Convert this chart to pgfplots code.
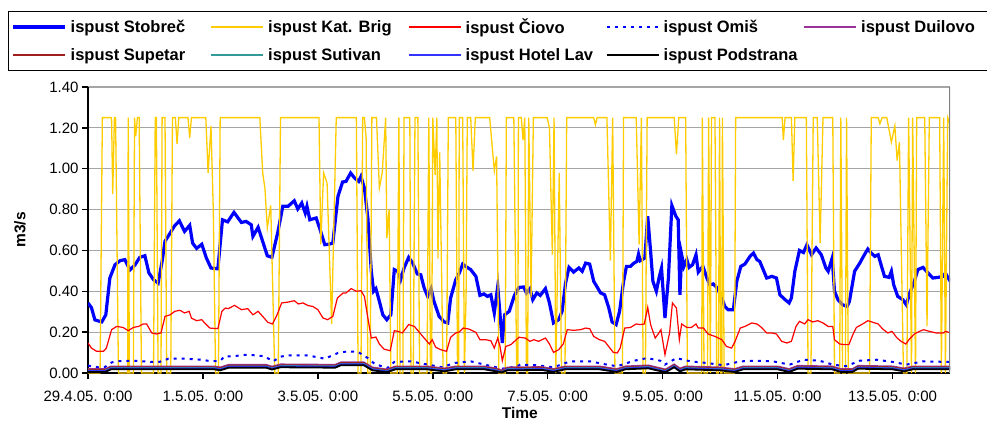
\documentclass[border=0pt]{standalone}
\usepackage{fontspec}
\setmainfont{Liberation Sans}
\usepackage{pgfplots}
\usepackage{pgfplotstable}
\pgfplotsset{compat=1.18}

\definecolor{cStob}{RGB}{0,0,255}
\definecolor{cKat}{RGB}{255,204,0}
\definecolor{cCio}{RGB}{255,0,0}
\definecolor{cOmi}{RGB}{0,0,255}
\definecolor{cDui}{RGB}{153,51,153}
\definecolor{cSup}{RGB}{160,30,30}
\definecolor{cSut}{RGB}{51,153,153}
\definecolor{cHot}{RGB}{51,51,255}
\definecolor{cPod}{RGB}{0,0,0}
\definecolor{cGrid}{RGB}{165,165,165}
\definecolor{cBorder}{RGB}{128,128,128}

\pgfplotstableread{
t v
0.00 0.343
0.06 0.32
0.12 0.26
0.24 0.25
0.31 0.285
0.38 0.465
0.47 0.53
0.56 0.55
0.64 0.555
0.73 0.505
0.82 0.53
0.90 0.566
0.99 0.574
1.06 0.49
1.14 0.457
1.22 0.44
1.29 0.547
1.34 0.645
1.43 0.685
1.50 0.718
1.59 0.745
1.68 0.693
1.77 0.723
1.82 0.636
1.89 0.61
1.98 0.63
2.06 0.563
2.14 0.514
2.26 0.51
2.34 0.75
2.43 0.74
2.54 0.786
2.67 0.737
2.75 0.742
2.84 0.726
2.87 0.669
2.96 0.713
3.04 0.644
3.12 0.574
3.20 0.566
3.30 0.685
3.39 0.816
3.48 0.816
3.59 0.843
3.65 0.803
3.72 0.832
3.78 0.783
3.81 0.816
3.86 0.75
3.97 0.759
4.03 0.71
4.12 0.628
4.20 0.631
4.26 0.636
4.35 0.865
4.43 0.935
4.49 0.938
4.57 0.979
4.64 0.954
4.71 0.938
4.75 0.962
4.81 0.905
4.87 0.759
4.93 0.498
4.97 0.40
5.01 0.413
5.07 0.351
5.13 0.285
5.20 0.261
5.27 0.285
5.33 0.506
5.39 0.498
5.44 0.457
5.50 0.514
5.58 0.566
5.65 0.538
5.73 0.485
5.79 0.481
5.85 0.416
5.91 0.375
5.97 0.413
6.02 0.351
6.11 0.277
6.20 0.25
6.26 0.245
6.31 0.367
6.40 0.457
6.46 0.489
6.52 0.533
6.57 0.522
6.66 0.506
6.75 0.473
6.82 0.38
6.89 0.387
6.95 0.375
7.01 0.383
7.07 0.294
7.13 0.424
7.17 0.285
7.21 0.147
7.25 0.285
7.33 0.302
7.42 0.38
7.50 0.419
7.58 0.421
7.63 0.392
7.69 0.413
7.74 0.359
7.81 0.392
7.87 0.38
7.96 0.413
8.03 0.343
8.10 0.245
8.19 0.261
8.25 0.302
8.31 0.44
8.37 0.517
8.45 0.494
8.54 0.514
8.60 0.498
8.66 0.538
8.73 0.533
8.80 0.449
8.92 0.392
8.99 0.383
9.06 0.321
9.12 0.25
9.19 0.237
9.25 0.302
9.32 0.449
9.37 0.522
9.44 0.522
9.50 0.538
9.55 0.546
9.58 0.582
9.61 0.55
9.69 0.563
9.74 0.767
9.79 0.595
9.83 0.449
9.89 0.40
9.94 0.47
9.98 0.514
10.04 0.269
10.10 0.465
10.16 0.82
10.23 0.767
10.27 0.75
10.30 0.383
10.33 0.579
10.37 0.522
10.42 0.555
10.46 0.517
10.52 0.53
10.58 0.579
10.62 0.494
10.70 0.522
10.77 0.465
10.82 0.432
10.88 0.436
10.95 0.416
11.03 0.367
11.08 0.326
11.14 0.31
11.23 0.31
11.29 0.449
11.36 0.522
11.43 0.533
11.52 0.571
11.58 0.587
11.64 0.555
11.69 0.546
11.81 0.465
11.90 0.473
11.98 0.465
12.04 0.383
12.13 0.359
12.20 0.343
12.24 0.367
12.30 0.498
12.38 0.600
12.45 0.590
12.51 0.628
12.59 0.579
12.67 0.612
12.76 0.579
12.84 0.514
12.88 0.498
12.95 0.563
12.99 0.40
13.05 0.359
13.13 0.334
13.21 0.326
13.25 0.351
13.34 0.498
13.43 0.538
13.51 0.579
13.57 0.607
13.63 0.587
13.69 0.571
13.75 0.579
13.80 0.53
13.86 0.473
13.94 0.468
13.98 0.498
14.02 0.432
14.09 0.375
14.18 0.359
14.24 0.334
14.30 0.392
14.38 0.449
14.44 0.506
14.53 0.517
14.62 0.489
14.70 0.465
14.79 0.468
14.88 0.473
14.92 0.489
15.00 0.45
}\stobrec

\pgfplotstableread{
t v
0.00 0
0.21 0
0.25 1.25
0.41 1.25
0.43 0.876
0.46 1.25
0.48 1.25
0.53 0
0.69 0
0.70 1.25
0.72 0
0.79 0
0.81 1.25
0.83 1.158
0.86 1.25
0.89 1.25
0.93 0
1.14 0
1.17 1.25
1.19 1.25
1.22 0
1.27 0
1.29 1.25
1.34 1.25
1.37 0
1.44 0
1.47 1.25
1.52 1.25
1.55 1.12
1.58 1.25
1.74 1.25
1.77 1.15
1.80 1.25
2.05 1.25
2.09 0.98
2.14 1.21
2.18 0.8
2.22 0
2.27 0
2.30 1.25
2.99 1.25
3.04 0.98
3.08 0.90
3.12 0.71
3.18 0.82
3.25 0
3.31 0
3.35 1.25
4.02 1.25
4.05 0.63
4.10 0.98
4.16 0.93
4.24 0.24
4.32 1.25
4.67 1.25
4.70 0
4.75 0
4.78 1.25
4.81 1.25
4.84 1.15
4.87 0
4.91 0
4.94 1.25
5.02 1.25
5.07 0.905
5.12 0.98
5.18 1.25
5.20 0.66
5.24 0.80
5.27 0
5.38 0
5.41 1.25
5.43 0
5.48 0
5.50 1.25
5.60 1.25
5.62 0
5.66 0
5.69 1.25
5.74 1.25
5.77 0
5.90 0
5.93 1.25
5.96 0
5.98 0
6.00 1.25
6.04 0.97
6.07 1.25
6.09 0.56
6.12 1.08
6.18 0
6.24 0
6.27 1.25
6.40 1.25
6.43 0
6.45 0
6.46 1.25
6.52 1.25
6.55 0
6.58 0.4
6.60 1.25
6.66 1.25
6.70 0.99
6.74 1.25
6.99 1.25
7.07 0.99
7.11 1.06
7.15 0
7.26 0
7.28 1.25
7.41 1.25
7.46 0
7.48 0
7.49 1.25
7.54 1.25
7.57 1.14
7.60 1.25
7.63 0
7.65 0
7.67 1.25
7.71 0.37
7.75 1.25
7.99 1.25
8.03 1.20
8.08 0.58
8.11 1.25
8.14 0
8.20 0.98
8.24 0
8.30 0
8.33 1.25
8.80 1.25
8.83 1.215
8.86 1.25
9.03 1.25
9.09 0.55
9.13 1.25
9.17 0
9.30 0
9.32 1.25
9.54 1.25
9.59 0.63
9.63 1.25
9.66 0
9.70 0
9.73 1.25
10.20 1.25
10.24 1.07
10.28 1.25
10.40 1.25
10.43 0
10.68 0
10.69 1.25
10.72 0
10.78 0
10.80 1.25
10.83 0
10.85 1.25
10.91 1.25
10.94 0
10.97 0
10.99 1.25
11.01 0
11.03 0
11.04 1.25
11.07 0
11.25 0
11.27 1.25
12.08 1.25
12.10 1.14
12.13 1.25
12.24 1.25
12.27 0.94
12.30 1.25
12.50 1.25
12.53 0
12.58 0
12.62 1.25
12.69 1.25
12.74 0.636
12.79 1.25
12.96 1.25
12.99 0
13.08 0
13.10 1.25
13.13 0
13.18 0
13.20 1.25
13.23 0
13.60 0
13.63 1.25
13.75 1.25
13.78 1.22
13.82 1.25
13.90 1.25
13.98 1.13
14.04 1.21
14.08 1.04
14.12 1.13
14.19 0
14.25 0
14.28 1.25
14.33 0
14.35 1.25
14.40 0
14.42 1.25
14.56 1.25
14.60 0.23
14.64 1.25
14.82 1.25
14.85 0
14.89 1.25
14.92 0
14.96 1.25
15.00 1.22
}\katbrig

\pgfplotstableread{
t v
0.00 0.147
0.06 0.122
0.15 0.106
0.27 0.106
0.32 0.122
0.41 0.212
0.50 0.228
0.61 0.223
0.70 0.207
0.79 0.223
0.88 0.228
0.96 0.24
1.02 0.24
1.11 0.196
1.19 0.191
1.27 0.196
1.34 0.277
1.43 0.285
1.51 0.302
1.60 0.307
1.68 0.294
1.76 0.302
1.80 0.269
1.89 0.256
1.98 0.261
2.03 0.245
2.12 0.22
2.26 0.217
2.33 0.302
2.39 0.318
2.44 0.315
2.55 0.331
2.67 0.31
2.78 0.315
2.87 0.285
2.96 0.302
3.04 0.277
3.13 0.248
3.21 0.24
3.29 0.285
3.37 0.343
3.48 0.347
3.59 0.354
3.66 0.338
3.74 0.343
3.83 0.33
3.91 0.326
4.00 0.31
4.09 0.269
4.17 0.261
4.26 0.277
4.34 0.367
4.44 0.392
4.49 0.392
4.58 0.413
4.67 0.40
4.75 0.403
4.81 0.375
4.87 0.269
4.93 0.171
5.01 0.176
5.07 0.142
5.15 0.117
5.26 0.109
5.33 0.207
5.39 0.204
5.47 0.196
5.58 0.237
5.68 0.228
5.76 0.201
5.85 0.171
5.94 0.142
5.99 0.163
6.05 0.126
6.14 0.114
6.24 0.106
6.31 0.175
6.40 0.196
6.46 0.201
6.53 0.22
6.63 0.215
6.75 0.199
6.82 0.163
6.92 0.163
7.01 0.158
7.07 0.122
7.13 0.171
7.17 0.13
7.21 0.06
7.27 0.13
7.36 0.139
7.50 0.175
7.61 0.171
7.69 0.155
7.76 0.163
7.84 0.155
7.96 0.171
8.03 0.142
8.10 0.101
8.19 0.114
8.27 0.142
8.34 0.212
8.45 0.209
8.57 0.212
8.66 0.22
8.73 0.217
8.80 0.179
8.90 0.163
8.99 0.155
9.06 0.13
9.14 0.101
9.21 0.098
9.26 0.122
9.34 0.22
9.44 0.223
9.54 0.24
9.61 0.237
9.68 0.24
9.74 0.321
9.79 0.237
9.87 0.171
9.92 0.19
9.97 0.212
10.04 0.09
10.12 0.196
10.17 0.343
10.24 0.318
10.29 0.163
10.33 0.24
10.42 0.223
10.50 0.223
10.58 0.24
10.62 0.22
10.71 0.22
10.79 0.191
10.91 0.179
11.03 0.163
11.11 0.13
11.20 0.122
11.26 0.155
11.35 0.22
11.43 0.228
11.55 0.245
11.64 0.24
11.72 0.223
11.81 0.196
11.90 0.196
11.98 0.191
12.07 0.155
12.16 0.147
12.24 0.155
12.32 0.228
12.38 0.253
12.47 0.24
12.53 0.261
12.61 0.25
12.70 0.256
12.79 0.245
12.88 0.228
12.96 0.228
12.99 0.163
13.08 0.142
13.17 0.139
13.24 0.139
13.31 0.188
13.37 0.223
13.48 0.24
13.57 0.256
13.66 0.248
13.75 0.24
13.83 0.215
13.92 0.196
13.99 0.204
14.08 0.171
14.15 0.155
14.23 0.142
14.30 0.168
14.38 0.191
14.47 0.204
14.54 0.212
14.64 0.204
14.76 0.196
14.88 0.196
14.93 0.204
15.00 0.196
}\ciovo

\pgfplotstableread{
t v
0.00 0.036
0.18 0.028
0.30 0.03
0.40 0.05
0.47 0.057
0.82 0.06
1.11 0.054
1.25 0.055
1.40 0.07
1.69 0.07
1.98 0.065
2.15 0.057
2.30 0.06
2.38 0.082
2.52 0.082
2.78 0.09
3.07 0.082
3.22 0.057
3.35 0.08
3.48 0.086
3.83 0.086
4.12 0.07
4.35 0.098
4.52 0.106
4.70 0.103
4.87 0.073
4.99 0.044
5.21 0.024
5.33 0.054
5.62 0.057
5.91 0.041
6.17 0.028
6.37 0.049
6.66 0.057
6.95 0.038
7.21 0.021
7.47 0.033
7.52 0.041
7.81 0.038
8.10 0.028
8.39 0.057
8.74 0.057
9.03 0.041
9.21 0.033
9.50 0.06
9.73 0.073
9.96 0.06
10.04 0.041
10.24 0.073
10.48 0.057
10.77 0.049
11.06 0.038
11.35 0.057
11.64 0.06
11.92 0.057
12.21 0.041
12.45 0.065
12.73 0.06
12.96 0.041
13.19 0.033
13.43 0.06
13.72 0.065
14.01 0.054
14.24 0.041
14.53 0.057
15.00 0.054
}\omis

\pgfplotstableread{
t sut dui sup hot pod
0.00 0.012 0.020 0.016 0.010 0.005
0.30 0.012 0.020 0.016 0.010 0.005
0.40 0.025 0.033 0.029 0.023 0.018
2.20 0.025 0.033 0.029 0.023 0.018
2.30 0.020 0.028 0.024 0.018 0.013
2.45 0.033 0.041 0.037 0.031 0.026
3.10 0.033 0.041 0.037 0.031 0.026
3.20 0.024 0.032 0.028 0.022 0.017
3.35 0.035 0.043 0.039 0.033 0.028
4.30 0.033 0.041 0.037 0.031 0.026
4.40 0.045 0.053 0.049 0.043 0.038
4.80 0.045 0.053 0.049 0.043 0.038
4.95 0.020 0.028 0.024 0.018 0.013
5.20 0.010 0.018 0.014 0.008 0.004
5.35 0.025 0.033 0.029 0.023 0.018
5.90 0.025 0.033 0.029 0.023 0.018
6.20 0.015 0.023 0.019 0.013 0.008
6.40 0.025 0.033 0.029 0.023 0.018
6.90 0.025 0.033 0.029 0.023 0.018
7.10 0.015 0.023 0.019 0.013 0.008
7.20 0.006 0.014 0.010 0.004 0.003
7.30 0.020 0.028 0.024 0.018 0.013
7.90 0.022 0.030 0.026 0.020 0.015
8.10 0.012 0.020 0.016 0.010 0.005
8.30 0.025 0.033 0.029 0.023 0.018
8.90 0.025 0.033 0.029 0.023 0.018
9.20 0.012 0.020 0.016 0.010 0.005
9.35 0.025 0.033 0.029 0.023 0.018
9.75 0.030 0.038 0.034 0.028 0.023
9.90 0.020 0.028 0.024 0.018 0.013
10.05 0.010 0.018 0.014 0.008 0.004
10.20 0.035 0.043 0.039 0.033 0.028
10.30 0.015 0.023 0.019 0.013 0.008
10.40 0.025 0.033 0.029 0.023 0.018
11.00 0.020 0.028 0.024 0.018 0.013
11.25 0.012 0.020 0.016 0.010 0.005
11.40 0.025 0.033 0.029 0.023 0.018
12.00 0.025 0.033 0.029 0.023 0.018
12.20 0.012 0.020 0.016 0.010 0.005
12.35 0.028 0.036 0.032 0.026 0.021
12.95 0.025 0.033 0.029 0.023 0.018
13.10 0.012 0.020 0.016 0.010 0.005
13.30 0.012 0.020 0.016 0.010 0.005
13.40 0.028 0.036 0.032 0.026 0.021
14.00 0.025 0.033 0.029 0.023 0.018
14.20 0.015 0.023 0.019 0.013 0.008
14.35 0.025 0.033 0.029 0.023 0.018
15.00 0.025 0.033 0.029 0.023 0.018
}\small

\begin{document}
\begin{tikzpicture}
\useasboundingbox (-88pt,-48pt) rectangle (899pt,373pt);
\begin{axis}[
  at={(0,0)}, anchor=south west,
  scale only axis, width=862pt, height=286pt,
  xmin=0, xmax=15, ymin=0, ymax=1.4,
  enlargelimits=false,
  axis x line*=bottom, axis y line*=left,
  x axis line style={-, black, line width=2pt},
  y axis line style={-, black, line width=2pt},
  xtick={0,2,4,6,8,10,12,14},
  xticklabels={29.4.05. 0:00,1.5.05. 0:00,3.5.05. 0:00,5.5.05. 0:00,7.5.05. 0:00,9.5.05. 0:00,11.5.05. 0:00,13.5.05. 0:00},
  ytick={0,0.2,0.4,0.6,0.8,1.0,1.2,1.4},
  scaled y ticks=false,
  /pgf/number format/assume math mode=true,
  yticklabel style={/pgf/number format/.cd, fixed, fixed zerofill, precision=2},
  ticklabel style={font=\fontsize{15}{17}\selectfont},
  xticklabel style={yshift=-8pt},
  tick align=outside,
  major tick length=6pt,
  tick style={black, line width=1.5pt},
  ymajorgrids,
  grid style={cGrid, line width=1.2pt},
  no markers,
  xlabel={Time},
  ylabel={m3/s},
  xlabel style={font=\fontsize{15.5}{17}\selectfont\bfseries, at={(axis description cs:0.501,-0.14)}, anchor=center},
  ylabel style={font=\fontsize{15.5}{17}\selectfont\bfseries, at={(axis description cs:-0.0789,0.5)}, anchor=center},
  legend columns=5,
  legend cell align=left,
  legend image code/.code={\draw[#1] (0pt,0pt) -- (52pt,0pt);},
  legend style={
    at={(axis description cs:-0.0928,1.2657)}, anchor=north west,
    draw=black, line width=1pt, fill=white,
    inner xsep=3pt, inner ysep=1.5pt,
    font=\fontsize{16.5}{19}\selectfont\bfseries,
    nodes={inner xsep=0pt, inner ysep=0pt, minimum height=28pt},
    /tikz/every odd column/.append style={column sep=4pt},
    /tikz/every even column/.append style={column sep=0pt},
  },
]
\addplot[cStob, line width=3.2pt] table[x=t,y=v] {\stobrec};
\addlegendentry{\makebox[140pt][l]{ispust Stobreč}}
\addplot[cKat, line width=1.3pt] table[x=t,y=v] {\katbrig};
\addlegendentry{\makebox[140pt][l]{ispust Kat. Brig}}
\addplot[cCio, line width=1.2pt] table[x=t,y=v] {\ciovo};
\addlegendentry{\makebox[140pt][l]{ispust Čiovo}}
\addplot[cOmi, line width=2pt, dash pattern=on 3pt off 5pt] table[x=t,y=v] {\omis};
\addlegendentry{\makebox[140pt][l]{ispust Omiš}}
\addplot[cDui, line width=1.5pt] table[x=t,y=dui] {\small};
\addlegendentry{\makebox[123pt][l]{ispust Duilovo}}
\addplot[cSup, line width=1.5pt] table[x=t,y=sup] {\small};
\addlegendentry{\makebox[140pt][l]{ispust Supetar}}
\addplot[cSut, line width=1.5pt] table[x=t,y=sut] {\small};
\addlegendentry{\makebox[140pt][l]{ispust Sutivan}}
\addplot[cHot, line width=1.5pt] table[x=t,y=hot] {\small};
\addlegendentry{\makebox[140pt][l]{ispust Hotel Lav}}
\addplot[cPod, line width=1.8pt] table[x=t,y=pod] {\small};
\addlegendentry{\makebox[140pt][l]{ispust Podstrana}}
\draw[cBorder, line width=1.2pt] (rel axis cs:1,0) -- (rel axis cs:1,1);
\end{axis}
\end{tikzpicture}
\end{document}
